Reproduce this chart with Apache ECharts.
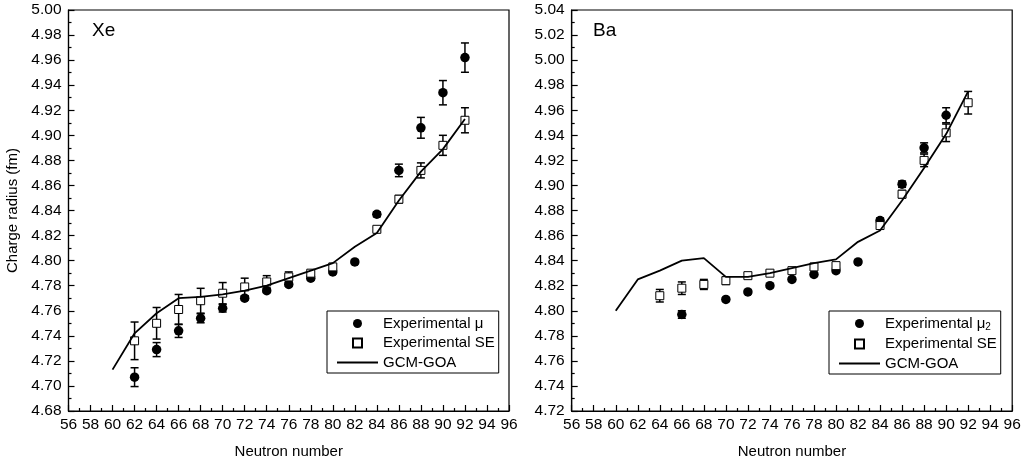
<!DOCTYPE html>
<html>
<head>
<meta charset="utf-8">
<script src="https://cdn.jsdelivr.net/npm/echarts@6/dist/echarts.min.js"></script>
<style>
  html, body { margin: 0; padding: 0; background: #fff; }
  #chart { width: 1031px; height: 466px; }
</style>
</head>
<body>
<div id="chart"></div>
<script>
// Xe panel
var xeMuN = [62, 64, 66, 68, 70, 72, 74, 76, 78, 80, 82, 84, 86, 88, 90, 92];
var xeMu = [4.707, 4.729, 4.744, 4.754, 4.762, 4.770, 4.776, 4.781, 4.786, 4.791, 4.799, 4.837, 4.872, 4.906, 4.934, 4.962];
var xeMuErr = [0.0075, 0.0056, 0.0053, 0.0036, 0.003, 0.0015, 0.0015, 0.0015, 0.0015, 0.0015, 0.0015, 0.002, 0.005, 0.0083, 0.0097, 0.0117];
var xeSeN = [62, 64, 66, 68, 70, 72, 74, 76, 78, 80, 84, 86, 88, 90, 92];
var xeSe = [4.736, 4.750, 4.761, 4.768, 4.774, 4.779, 4.783, 4.787, 4.790, 4.795, 4.825, 4.849, 4.872, 4.892, 4.912];
var xeSeErr = [0.015, 0.0126, 0.012, 0.0099, 0.0085, 0.007, 0.005, 0.004, 0.002, 0.002, 0.0015, 0.003, 0.006, 0.008, 0.010];
var gcmN = [60, 62, 64, 66, 68, 70, 72, 74, 76, 78, 80, 82, 84, 86, 88, 90, 92];
var xeGcm = [4.713, 4.742, 4.758, 4.770, 4.771, 4.773, 4.776, 4.780, 4.786, 4.792, 4.798, 4.811, 4.822, 4.848, 4.871, 4.889, 4.913];

// Ba panel
var baMuN = [66, 70, 72, 74, 76, 78, 80, 82, 84, 86, 88, 90];
var baMu = [4.797, 4.809, 4.815, 4.820, 4.825, 4.829, 4.832, 4.839, 4.872, 4.901, 4.930, 4.956];
var baMuErr = [0.003, 0.0015, 0.0015, 0.0015, 0.0015, 0.0015, 0.0015, 0.0015, 0.002, 0.0025, 0.004, 0.006];
var baSeN = [64, 66, 68, 70, 72, 74, 76, 78, 80, 84, 86, 88, 90, 92];
var baSe = [4.812, 4.818, 4.821, 4.824, 4.828, 4.830, 4.832, 4.835, 4.836, 4.868, 4.893, 4.920, 4.942, 4.966];
var baSeErr = [0.005, 0.005, 0.004, 0.003, 0.002, 0.0015, 0.0015, 0.0015, 0.0015, 0.0015, 0.003, 0.005, 0.007, 0.009];
var baGcm = [4.800, 4.825, 4.832, 4.840, 4.842, 4.827, 4.827, 4.830, 4.834, 4.838, 4.841, 4.855, 4.864, 4.888, 4.914, 4.941, 4.975];

var xTicks = {min: 56, max: 96, interval: 2};
var yRanges = [{min: 4.68, max: 5.00}, {min: 4.72, max: 5.04}];

var font = 'Liberation Sans, Arial, sans-serif';
var squarePath = 'path://M0,0H10V10H0Z';

function pairs(xs, ys) {
    return xs.map(function (x, i) { return [x, ys[i]]; });
}

function errData(xs, ys, es) {
    return xs.map(function (x, i) { return [x, ys[i] - es[i], ys[i] + es[i]]; });
}

function errorBars(idx, xs, ys, es) {
    return {
        type: 'custom',
        xAxisIndex: idx, yAxisIndex: idx,
        silent: true, z: 1,
        data: errData(xs, ys, es),
        encode: {x: 0, y: [1, 2]},
        renderItem: function (params, api) {
            var lo = api.coord([api.value(0), api.value(1)]);
            var hi = api.coord([api.value(0), api.value(2)]);
            var w = 4;
            var st = {stroke: '#000', lineWidth: 1.5};
            return {
                type: 'group',
                children: [
                    {type: 'line', shape: {x1: lo[0], y1: lo[1], x2: hi[0], y2: hi[1]}, style: st},
                    {type: 'line', shape: {x1: lo[0] - w, y1: lo[1], x2: lo[0] + w, y2: lo[1]}, style: st},
                    {type: 'line', shape: {x1: hi[0] - w, y1: hi[1], x2: hi[0] + w, y2: hi[1]}, style: st}
                ]
            };
        }
    };
}

function muSeries(idx, name, xs, ys) {
    return {
        name: name, type: 'scatter', xAxisIndex: idx, yAxisIndex: idx, z: 3,
        symbol: 'circle', symbolSize: 9.5,
        itemStyle: {color: '#000', opacity: 1},
        data: pairs(xs, ys)
    };
}

function seSeries(idx, xs, ys) {
    return {
        name: 'Experimental SE', type: 'scatter', xAxisIndex: idx, yAxisIndex: idx, z: 4,
        symbol: 'rect', symbolSize: 8,
        itemStyle: {color: '#fff', borderColor: '#000', borderWidth: 1, opacity: 1},
        data: pairs(xs, ys)
    };
}

function gcmSeries(idx, ys) {
    return {
        name: 'GCM-GOA', type: 'line', xAxisIndex: idx, yAxisIndex: idx, z: 5,
        symbol: 'none', itemStyle: {color: '#000'},
        lineStyle: {color: '#000', width: 1.8},
        data: pairs(gcmN, ys)
    };
}

function xAxis(idx) {
    return {
        type: 'value', gridIndex: idx,
        min: xTicks.min, max: xTicks.max, interval: xTicks.interval,
        name: 'Neutron number', nameLocation: 'middle', nameGap: 33,
        nameTextStyle: {fontSize: 15, color: '#000', fontFamily: font},
        axisLine: {lineStyle: {color: '#000', width: 1.2}},
        axisTick: {inside: true, length: 6, lineStyle: {color: '#000', width: 1.2}},
        minorTick: {show: true, splitNumber: 2, length: 3, lineStyle: {color: '#000', width: 1.2}},
        splitLine: {show: false},
        axisLabel: {fontSize: 15.5, color: '#000', fontFamily: font, margin: 6, interval: 0}
    };
}

function yAxis(idx) {
    var ax = {
        type: 'value', gridIndex: idx,
        min: yRanges[idx].min, max: yRanges[idx].max, interval: 0.02,
        axisLine: {lineStyle: {color: '#000', width: 1.2}},
        axisTick: {inside: true, length: 6, lineStyle: {color: '#000', width: 1.2}},
        minorTick: {show: true, splitNumber: 2, length: 3, lineStyle: {color: '#000', width: 1.2}},
        splitLine: {show: false},
        axisLabel: {
            fontSize: 15.5, color: '#000', fontFamily: font, margin: 7,
            formatter: function (v) { return v.toFixed(2); }
        }
    };
    if (idx === 0) {
        ax.name = 'Charge radius (fm)';
        ax.nameLocation = 'middle';
        ax.nameGap = 48;
        ax.nameTextStyle = {fontSize: 15, color: '#000', fontFamily: font};
    }
    return ax;
}

function legend(left, muName) {
    return {
        orient: 'vertical', left: left, top: 311,
        data: [
            {name: muName, icon: 'circle'},
            {name: 'Experimental SE', icon: squarePath},
            {name: 'GCM-GOA', itemStyle: {opacity: 0}}
        ],
        itemWidth: 41, itemHeight: 9, itemGap: 4.5,
        padding: [5, 4, 3, 9],
        borderColor: '#000', borderWidth: 1, backgroundColor: '#fff',
        selectedMode: false,
        textStyle: {
            fontSize: 15, color: '#000', fontFamily: font,
            rich: {sub: {fontSize: 10, fontFamily: font, color: '#000', padding: [7, 0, 0, 0]}}
        },
        formatter: function (n) {
            return n === 'Experimental μ2' ? 'Experimental μ{sub|2}' : n;
        }
    };
}

var chart = echarts.init(document.getElementById('chart'));
chart.setOption({
    backgroundColor: '#fff',
    animation: false,
    title: [
        {text: 'Xe', left: 92, top: 21, padding: 0, textStyle: {fontSize: 19, fontWeight: 'normal', color: '#000', fontFamily: font}},
        {text: 'Ba', left: 593, top: 21, padding: 0, textStyle: {fontSize: 19, fontWeight: 'normal', color: '#000', fontFamily: font}}
    ],
    grid: [
        {left: 68.5, top: 10, width: 440.5, height: 401, show: true, borderColor: '#000', borderWidth: 1.2},
        {left: 571.7, top: 10, width: 440.5, height: 401, show: true, borderColor: '#000', borderWidth: 1.2}
    ],
    legend: [
        legend(327, 'Experimental μ'),
        legend(829, 'Experimental μ2')
    ],
    xAxis: [xAxis(0), xAxis(1)],
    yAxis: [yAxis(0), yAxis(1)],
    series: [
        errorBars(0, xeMuN, xeMu, xeMuErr),
        errorBars(0, xeSeN, xeSe, xeSeErr),
        muSeries(0, 'Experimental μ', xeMuN, xeMu),
        seSeries(0, xeSeN, xeSe),
        gcmSeries(0, xeGcm),
        errorBars(1, baMuN, baMu, baMuErr),
        errorBars(1, baSeN, baSe, baSeErr),
        muSeries(1, 'Experimental μ2', baMuN, baMu),
        seSeries(1, baSeN, baSe),
        gcmSeries(1, baGcm)
    ]
});
</script>
</body>
</html>
